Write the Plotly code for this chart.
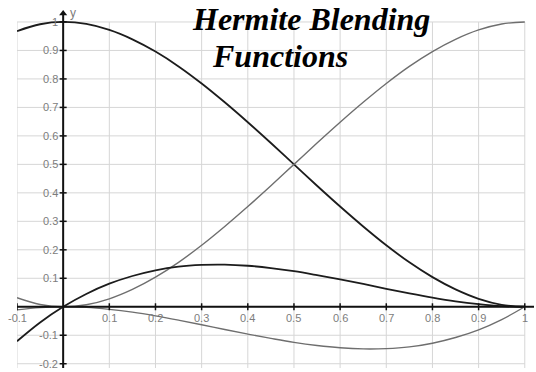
import plotly.graph_objects as go

# Parameter samples t and the four cubic Hermite basis curves
t = [-0.1, -0.05, 0.0, 0.05, 0.1, 0.15, 0.2, 0.25, 0.3, 0.35, 0.4, 0.45,
     0.5, 0.55, 0.6, 0.65, 0.7, 0.75, 0.8, 0.85, 0.9, 0.95, 1.0]
h00 = [0.968, 0.992, 1.0, 0.993, 0.972, 0.939, 0.896, 0.844, 0.784, 0.718, 0.648, 0.575,
       0.5, 0.425, 0.352, 0.282, 0.216, 0.156, 0.104, 0.061, 0.028, 0.007, 0.0]
h01 = [0.032, 0.008, 0.0, 0.007, 0.028, 0.061, 0.104, 0.156, 0.216, 0.282, 0.352, 0.425,
       0.5, 0.575, 0.648, 0.718, 0.784, 0.844, 0.896, 0.939, 0.972, 0.993, 1.0]
h10 = [-0.121, -0.055, 0.0, 0.045, 0.081, 0.108, 0.128, 0.141, 0.147, 0.148, 0.144, 0.136,
       0.125, 0.111, 0.096, 0.080, 0.063, 0.047, 0.032, 0.019, 0.009, 0.002, 0.0]
h11 = [-0.011, -0.003, 0.0, -0.002, -0.009, -0.019, -0.032, -0.047, -0.063, -0.080, -0.096, -0.111,
       -0.125, -0.136, -0.144, -0.148, -0.147, -0.141, -0.128, -0.108, -0.081, -0.045, 0.0]

# Axis ticks and their labels
x_ticks = [-0.1, 0.1, 0.2, 0.3, 0.4, 0.5, 0.6, 0.7, 0.8, 0.9, 1.0]
x_labels = ["-0.1", "0.1", "0.2", "0.3", "0.4", "0.5", "0.6", "0.7", "0.8", "0.9", "1"]
y_ticks = [-0.2, -0.1, 0.1, 0.2, 0.3, 0.4, 0.5, 0.6, 0.7, 0.8, 0.9, 1.0]
y_labels = ["-0.2", "-0.1", "0.1", "0.2", "0.3", "0.4", "0.5", "0.6", "0.7", "0.8", "0.9", "1"]
grid_x = [-0.1, 0.0, 0.1, 0.2, 0.3, 0.4, 0.5, 0.6, 0.7, 0.8, 0.9, 1.0]
grid_y = [-0.2, -0.1, 0.0, 0.1, 0.2, 0.3, 0.4, 0.5, 0.6, 0.7, 0.8, 0.9, 1.0]

title_lines = ["Hermite Blending", "Functions"]

DARK = "#1c1c1c"
LIGHT = "#6e6e6e"
LABEL = "#7c7c7c"

fig = go.Figure()

# Curves
curves = [(h00, DARK, 1.8), (h01, LIGHT, 1.4), (h10, DARK, 1.8), (h11, LIGHT, 1.4)]
for vals, col, w in curves:
    fig.add_trace(go.Scatter(x=t, y=vals, mode="lines", line=dict(color=col, width=w, shape="spline"),
                             hoverinfo="skip", showlegend=False))

# Small tick marks on the crossing axes
fig.add_trace(go.Scatter(x=x_ticks, y=[0] * len(x_ticks), mode="markers",
                         marker=dict(symbol="line-ns", size=5, line=dict(color="#111", width=1.5)),
                         showlegend=False, hoverinfo="skip"))
fig.add_trace(go.Scatter(x=[0] * len(y_ticks), y=y_ticks, mode="markers",
                         marker=dict(symbol="line-ew", size=5, line=dict(color="#111", width=1.5)),
                         showlegend=False, hoverinfo="skip"))

# Arrow head at the top of the vertical axis
fig.add_trace(go.Scatter(x=[0], y=[1.03], mode="markers",
                         marker=dict(symbol="triangle-up", size=7, color="#111"),
                         showlegend=False, hoverinfo="skip", cliponaxis=False))

label_font = dict(family="Liberation Sans, Arial", size=11, color=LABEL)
annotations = []
for xv, lab in zip(x_ticks, x_labels):
    annotations.append(dict(x=xv, y=0, text=lab, showarrow=False, xanchor="center", yanchor="top",
                            yshift=-3, font=label_font))
for yv, lab in zip(y_ticks, y_labels):
    annotations.append(dict(x=0, y=yv, text=lab, showarrow=False, xanchor="right", yanchor="middle",
                            xshift=-3, font=label_font))
annotations.append(dict(x=0, y=1.03, text="y", showarrow=False, xanchor="left", yanchor="middle",
                        xshift=5, font=dict(family="Liberation Sans, Arial", size=12, color=LABEL)))

title_font = dict(family="Liberation Serif, Times New Roman, serif", size=32, color="#000")
annotations.append(dict(x=0.536, y=1.0105, text="<b><i>%s</i></b>" % title_lines[0], showarrow=False,
                        xanchor="center", yanchor="middle", borderpad=0, font=title_font))
annotations.append(dict(x=0.469, y=0.881, text="<b><i>%s</i></b>" % title_lines[1], showarrow=False,
                        xanchor="center", yanchor="middle", borderpad=0, font=title_font))

shapes = []
for gx in grid_x:
    shapes.append(dict(type="line", xref="x", yref="y", x0=gx, x1=gx, y0=-0.215, y1=1.0,
                       line=dict(color="#d6d6d6", width=1), layer="below"))
for gy in grid_y:
    shapes.append(dict(type="line", xref="x", yref="y", x0=-0.1, x1=1.0, y0=gy, y1=gy,
                       line=dict(color="#d6d6d6", width=1), layer="below"))
# Main axes through the origin
shapes.append(dict(type="line", xref="x", yref="y", x0=-0.1, x1=1.02, y0=0, y1=0,
                   line=dict(color="#111", width=2)))
shapes.append(dict(type="line", xref="x", yref="y", x0=0, x1=0, y0=-0.215, y1=1.03,
                   line=dict(color="#111", width=2)))

fig.update_layout(
    width=536, height=372,
    margin=dict(l=17, r=2, t=12, b=4),
    paper_bgcolor="white", plot_bgcolor="white",
    xaxis=dict(range=[-0.1, 1.02], showgrid=False, zeroline=False, showticklabels=False, ticks=""),
    yaxis=dict(range=[-0.215, 1.035], showgrid=False, zeroline=False, showticklabels=False, ticks=""),
    annotations=annotations, shapes=shapes,
)

fig.write_html("out.html", config={"displayModeBar": False})
